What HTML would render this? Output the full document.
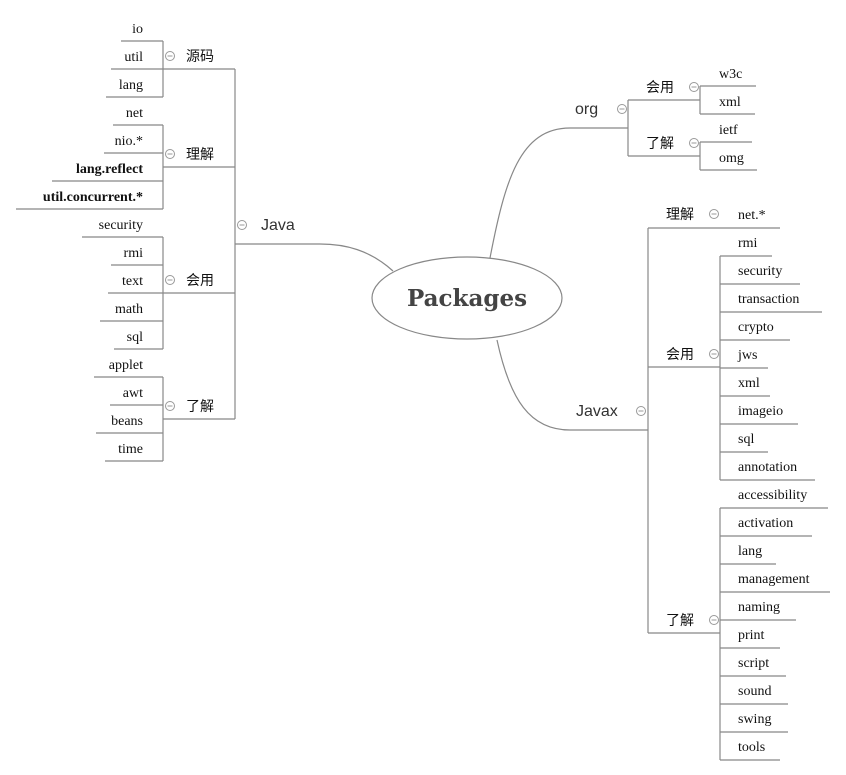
<!DOCTYPE html>
<html><head><meta charset="utf-8"><style>
html,body{margin:0;padding:0;background:#fff;width:846px;height:775px;overflow:hidden}
svg{display:block}
.l{font-family:"Liberation Serif","DejaVu Serif",serif;font-size:14px;fill:#111}
.b{font-weight:bold}
.c{font-family:"Liberation Sans","Noto Sans CJK SC",sans-serif;font-size:14px;fill:#111}
.m{font-family:"Liberation Sans",sans-serif;font-size:16px;fill:#333}
line,path,polyline{stroke:#888;stroke-width:1.2;fill:none}
.ic circle{fill:#fff;stroke:#999;stroke-width:1}
.ic line{stroke:#999;stroke-width:1}
</style></head><body>
<svg width="846" height="775" viewBox="0 0 846 775" xmlns="http://www.w3.org/2000/svg">
<!-- central -->
<ellipse cx="467" cy="298" rx="95" ry="41" fill="#fff" stroke="#888" stroke-width="1.2"/>
<text x="467" y="306" text-anchor="middle" font-family="'DejaVu Serif','Liberation Serif',serif" font-weight="bold" font-size="23" fill="#444">Packages</text>
<path d="M393 271 C370 250 345 244 320 244 L235 244"/>
<path d="M490 258 C505 180 520 128 570 128 L628 128"/>
<path d="M497 340 C510 400 530 430 570 430 L648 430"/>

<!-- LEFT: Java -->
<text class="m" x="261" y="230">Java</text>
<line x1="235" y1="69" x2="235" y2="419"/>
<!-- 源码 -->
<text class="c" x="186" y="61">源码</text>
<line x1="163" y1="69" x2="235" y2="69"/>
<line x1="163" y1="41" x2="163" y2="97"/>
<text class="l" x="143" y="33" text-anchor="end">io</text><line x1="121" y1="41" x2="163" y2="41"/>
<text class="l" x="143" y="61" text-anchor="end">util</text><line x1="111" y1="69" x2="163" y2="69"/>
<text class="l" x="143" y="89" text-anchor="end">lang</text><line x1="106" y1="97" x2="163" y2="97"/>
<!-- 理解 -->
<text class="c" x="186" y="159">理解</text>
<line x1="163" y1="167" x2="235" y2="167"/>
<line x1="163" y1="125" x2="163" y2="209"/>
<text class="l" x="143" y="117" text-anchor="end">net</text><line x1="113" y1="125" x2="163" y2="125"/>
<text class="l" x="143" y="145" text-anchor="end">nio.*</text><line x1="104" y1="153" x2="163" y2="153"/>
<text class="l b" x="143" y="173" text-anchor="end">lang.reflect</text><line x1="52" y1="181" x2="163" y2="181"/>
<text class="l b" x="143" y="201" text-anchor="end">util.concurrent.*</text><line x1="16" y1="209" x2="163" y2="209"/>
<!-- 会用 -->
<text class="c" x="186" y="285">会用</text>
<line x1="163" y1="293" x2="235" y2="293"/>
<line x1="163" y1="237" x2="163" y2="349"/>
<text class="l" x="143" y="229" text-anchor="end">security</text><line x1="82" y1="237" x2="163" y2="237"/>
<text class="l" x="143" y="257" text-anchor="end">rmi</text><line x1="111" y1="265" x2="163" y2="265"/>
<text class="l" x="143" y="285" text-anchor="end">text</text><line x1="108" y1="293" x2="163" y2="293"/>
<text class="l" x="143" y="313" text-anchor="end">math</text><line x1="100" y1="321" x2="163" y2="321"/>
<text class="l" x="143" y="341" text-anchor="end">sql</text><line x1="114" y1="349" x2="163" y2="349"/>
<!-- 了解 -->
<text class="c" x="186" y="411">了解</text>
<line x1="163" y1="419" x2="235" y2="419"/>
<line x1="163" y1="377" x2="163" y2="461"/>
<text class="l" x="143" y="369" text-anchor="end">applet</text><line x1="94" y1="377" x2="163" y2="377"/>
<text class="l" x="143" y="397" text-anchor="end">awt</text><line x1="110" y1="405" x2="163" y2="405"/>
<text class="l" x="143" y="425" text-anchor="end">beans</text><line x1="96" y1="433" x2="163" y2="433"/>
<text class="l" x="143" y="453" text-anchor="end">time</text><line x1="105" y1="461" x2="163" y2="461"/>

<!-- RIGHT: org -->
<text class="m" x="575" y="114">org</text>
<line x1="628" y1="100" x2="628" y2="156"/>
<text class="c" x="646" y="92">会用</text>
<line x1="628" y1="100" x2="700" y2="100"/>
<line x1="700" y1="86" x2="700" y2="114"/>
<text class="l" x="719" y="78">w3c</text><line x1="700" y1="86" x2="756" y2="86"/>
<text class="l" x="719" y="106">xml</text><line x1="700" y1="114" x2="755" y2="114"/>
<text class="c" x="646" y="148">了解</text>
<line x1="628" y1="156" x2="700" y2="156"/>
<line x1="700" y1="142" x2="700" y2="170"/>
<text class="l" x="719" y="134">ietf</text><line x1="700" y1="142" x2="752" y2="142"/>
<text class="l" x="719" y="162">omg</text><line x1="700" y1="170" x2="757" y2="170"/>

<!-- Javax -->
<text class="m" x="576" y="416">Javax</text>
<line x1="648" y1="228" x2="648" y2="633"/>
<text class="c" x="666" y="219">理解</text>
<line x1="648" y1="228" x2="780" y2="228"/>
<text class="l" x="738" y="219">net.*</text>
<text class="c" x="666" y="359">会用</text>
<line x1="648" y1="367" x2="720" y2="367"/>
<line x1="720" y1="256" x2="720" y2="480"/>
<text class="l" x="738" y="247">rmi</text><line x1="720" y1="256" x2="772" y2="256"/>
<text class="l" x="738" y="275">security</text><line x1="720" y1="284" x2="800" y2="284"/>
<text class="l" x="738" y="303">transaction</text><line x1="720" y1="312" x2="822" y2="312"/>
<text class="l" x="738" y="331">crypto</text><line x1="720" y1="340" x2="790" y2="340"/>
<text class="l" x="738" y="359">jws</text><line x1="720" y1="368" x2="768" y2="368"/>
<text class="l" x="738" y="387">xml</text><line x1="720" y1="396" x2="770" y2="396"/>
<text class="l" x="738" y="415">imageio</text><line x1="720" y1="424" x2="798" y2="424"/>
<text class="l" x="738" y="443">sql</text><line x1="720" y1="452" x2="768" y2="452"/>
<text class="l" x="738" y="471">annotation</text><line x1="720" y1="480" x2="815" y2="480"/>
<text class="c" x="666" y="625">了解</text>
<line x1="648" y1="633" x2="720" y2="633"/>
<line x1="720" y1="508" x2="720" y2="760"/>
<text class="l" x="738" y="499">accessibility</text><line x1="720" y1="508" x2="828" y2="508"/>
<text class="l" x="738" y="527">activation</text><line x1="720" y1="536" x2="812" y2="536"/>
<text class="l" x="738" y="555">lang</text><line x1="720" y1="564" x2="776" y2="564"/>
<text class="l" x="738" y="583">management</text><line x1="720" y1="592" x2="830" y2="592"/>
<text class="l" x="738" y="611">naming</text><line x1="720" y1="620" x2="796" y2="620"/>
<text class="l" x="738" y="639">print</text><line x1="720" y1="648" x2="780" y2="648"/>
<text class="l" x="738" y="667">script</text><line x1="720" y1="676" x2="786" y2="676"/>
<text class="l" x="738" y="695">sound</text><line x1="720" y1="704" x2="788" y2="704"/>
<text class="l" x="738" y="723">swing</text><line x1="720" y1="732" x2="788" y2="732"/>
<text class="l" x="738" y="751">tools</text><line x1="720" y1="760" x2="780" y2="760"/>

<!-- collapse icons -->
<g class="ic">
<circle cx="170" cy="56" r="4.5"/><line x1="167.5" y1="56" x2="172.5" y2="56"/>
<circle cx="170" cy="154" r="4.5"/><line x1="167.5" y1="154" x2="172.5" y2="154"/>
<circle cx="170" cy="280" r="4.5"/><line x1="167.5" y1="280" x2="172.5" y2="280"/>
<circle cx="170" cy="406" r="4.5"/><line x1="167.5" y1="406" x2="172.5" y2="406"/>
<circle cx="242" cy="225" r="4.5"/><line x1="239.5" y1="225" x2="244.5" y2="225"/>
<circle cx="622" cy="109" r="4.5"/><line x1="619.5" y1="109" x2="624.5" y2="109"/>
<circle cx="694" cy="87" r="4.5"/><line x1="691.5" y1="87" x2="696.5" y2="87"/>
<circle cx="694" cy="143" r="4.5"/><line x1="691.5" y1="143" x2="696.5" y2="143"/>
<circle cx="641" cy="411" r="4.5"/><line x1="638.5" y1="411" x2="643.5" y2="411"/>
<circle cx="714" cy="214" r="4.5"/><line x1="711.5" y1="214" x2="716.5" y2="214"/>
<circle cx="714" cy="354" r="4.5"/><line x1="711.5" y1="354" x2="716.5" y2="354"/>
<circle cx="714" cy="620" r="4.5"/><line x1="711.5" y1="620" x2="716.5" y2="620"/>
</g>
</svg>
</body></html>
